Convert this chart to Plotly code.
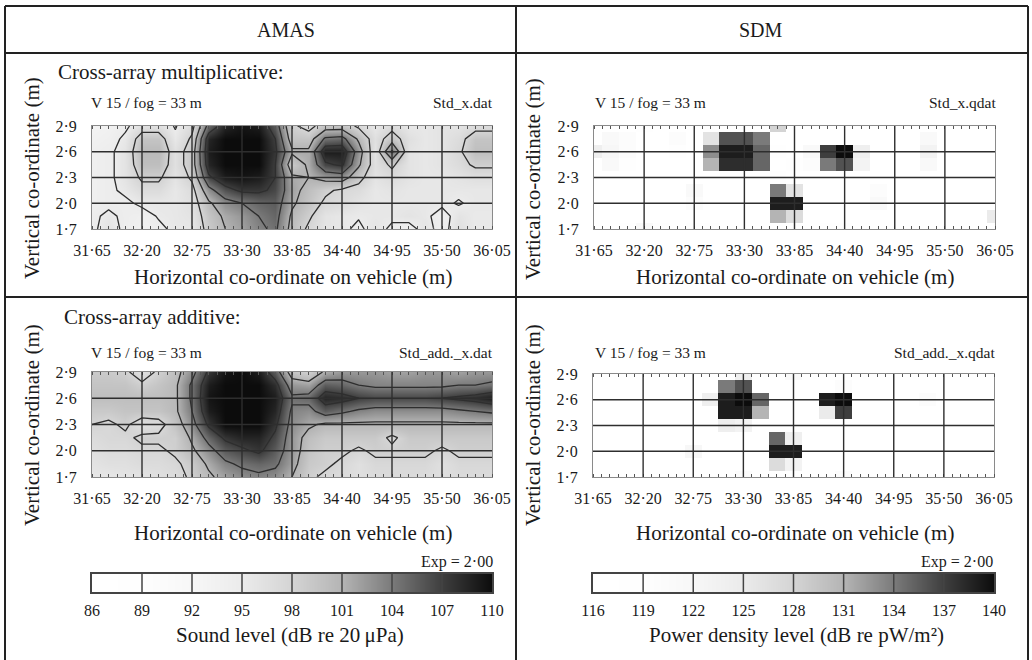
import plotly.graph_objects as go

W, H = 1032, 660
FONT = "Liberation Serif"
TXT = "#1a1a1a"

# ---------------- data ----------------
x_grid = [31.650, 31.833, 32.017, 32.200, 32.383, 32.567, 32.750, 32.933, 33.117,
          33.300, 33.483, 33.667, 33.850, 34.033, 34.217, 34.400, 34.583, 34.767,
          34.950, 35.133, 35.317, 35.500, 35.683, 35.867, 36.050]
y_grid = [1.70, 1.85, 2.00, 2.15, 2.30, 2.45, 2.60, 2.75, 2.90]

x_ticks = [31.65, 32.20, 32.75, 33.30, 33.85, 34.40, 34.95, 35.50, 36.05]
x_ticklabels = ["31·65", "32·20", "32·75", "33·30", "33·85", "34·40", "34·95", "35·50", "36·05"]
y_ticks = [1.7, 2.0, 2.3, 2.6, 2.9]
y_ticklabels = ["1·7", "2·0", "2·3", "2·6", "2·9"]

amas_levels = [86, 89, 92, 95, 98, 101, 104, 107, 110]
sdm_levels = [116, 119, 122, 125, 128, 131, 134, 137, 140]

# grey value of the scale at each level step (255 = white)
grey_steps = [255, 254, 247, 235, 212, 180, 122, 62, 12]

# AMAS cross-array multiplicative (dB re 20 uPa), rows bottom (1.7 m) to top (2.9 m)
amas_mult = [
    [94.5, 96, 94.5, 93.5, 94.5, 95.5, 95.5, 99, 101, 102, 103.5, 104.5, 100, 97.5, 96, 95.5, 94.5, 96, 94.5, 94, 96, 94, 96.5, 95.2, 95.2],
    [94.5, 95.5, 94.5, 94, 95.2, 95.5, 96, 99.5, 101.5, 102.5, 104, 105, 100.5, 98.5, 96, 95.5, 95.2, 95.5, 95.5, 96, 95.5, 94, 96, 95.2, 95.2],
    [94, 94.5, 94.5, 95.5, 95.5, 95.5, 96.5, 100.5, 103, 104, 105, 105.5, 101.5, 99.5, 97.5, 97, 96, 95.5, 95.5, 95.5, 95.5, 95.5, 94.8, 95.5, 95.5],
    [94, 94.5, 95.5, 97, 97, 95.5, 97, 103, 106, 107.5, 107.5, 106.5, 102, 100, 98.5, 97.5, 97, 95.5, 96, 95.5, 95.5, 95.5, 95.5, 95.5, 95.5],
    [94, 94.5, 96, 98.5, 98.5, 96, 98.5, 106.5, 109, 109.5, 109, 107, 101.5, 101, 102, 102.5, 99, 96, 97, 96, 95.5, 95.5, 96, 96.5, 96.5],
    [94, 94.5, 96, 100, 100, 96.5, 99.5, 108.5, 110, 110, 110, 107, 99, 101.5, 106.5, 107.5, 101.5, 96.5, 98.5, 96, 95.5, 96, 97, 98.5, 98.5],
    [94, 94.5, 96, 100.5, 100.5, 96.5, 99.5, 109, 110, 110, 110, 107.5, 101.5, 101.5, 109, 109, 102.5, 96, 104.5, 96, 95.5, 96, 97.5, 100, 100],
    [93.5, 94, 95.5, 99.5, 99.5, 95.5, 98.5, 108.5, 110, 110, 110, 107, 99.5, 99.5, 104.5, 105, 100.5, 96.5, 99.5, 96.5, 95.5, 96, 97, 99.5, 99.5],
    [93, 93.5, 94.5, 96.5, 96.5, 94.8, 97, 105, 108.5, 109.5, 109, 105.5, 98.5, 97, 99.5, 99.5, 97.5, 95.5, 97, 95.5, 95.5, 96, 96, 97, 97],
]

# AMAS cross-array additive
amas_add = [
    [95.5, 95.5, 96, 96, 96.5, 97, 98.5, 100.5, 102, 103, 103.5, 103, 101, 98.5, 97.5, 97, 96.5, 97, 97, 97, 97, 96.5, 97, 97, 97],
    [96, 96.5, 96.5, 97, 97, 97.5, 99, 101.5, 103.5, 104.5, 105, 104.5, 102, 99, 98.5, 97.5, 96.5, 97.5, 97.5, 97.5, 97.5, 96.5, 97.5, 97.5, 97.5],
    [96.5, 97, 97, 97.5, 97.5, 98.5, 100.5, 103, 105.5, 106.5, 107.5, 105.5, 102.5, 99.5, 98.5, 98.5, 97.6, 98.5, 98.5, 98.5, 98.5, 97.6, 98.5, 98.5, 98.5],
    [97, 97.5, 97.5, 98.5, 98.5, 98.5, 101.5, 105, 107.5, 108.5, 108.5, 106.5, 102.5, 100, 99, 99, 99, 99, 97.5, 99, 99, 99, 99, 99, 99],
    [98, 97.5, 98.5, 96.5, 97, 99.5, 103, 107.5, 110, 110, 110, 107.5, 103, 101.5, 100.5, 100.5, 100.5, 100.5, 100.5, 100.5, 100.5, 100.5, 100.5, 100.5, 100.5],
    [99, 99, 99.5, 99.5, 99.5, 100.5, 104, 109, 110, 110, 110, 108.5, 103.5, 103, 105.5, 104.5, 103.5, 103, 103, 103, 103, 103, 103.5, 104, 104.5],
    [100, 100, 100, 100, 100, 100.5, 104.5, 109.5, 110, 110, 110, 109, 104.5, 105, 108.5, 108, 107, 106.5, 106.5, 106.5, 106.5, 107, 107.5, 108, 109],
    [99.5, 99.5, 99.5, 98.5, 99.5, 100.5, 104.5, 109, 110, 110, 110, 108, 102.5, 102, 105.5, 105, 104, 103.5, 103.5, 103.5, 103.5, 103.5, 104, 104, 104.5],
    [99, 99, 98.5, 96.5, 98.5, 100, 103, 107.5, 109.5, 110, 109, 105.5, 99.5, 98.5, 101.5, 102.5, 102.5, 102.5, 102, 102, 102.5, 102.5, 102, 102.5, 102.5],
]

# SDM power density level (dB re pW/m^2), cross-array multiplicative
sdm_mult = [
    [117, 117, 118, 121, 118, 117, 119, 119, 117, 117, 117, 117, 117, 117, 119, 119, 117, 117, 117, 117, 117, 117, 117, 117, 117],
    [117, 117, 117, 117, 117, 117, 117, 117, 117, 117, 117, 131, 127, 117, 117, 117, 117, 117, 117, 117, 117, 117, 117, 117, 125],
    [117, 117, 117, 117, 117, 117, 120, 117, 117, 117, 117, 139, 139, 117, 117, 117, 117, 121, 117, 117, 117, 117, 117, 117, 117],
    [117, 117, 117, 117, 117, 117, 121, 117, 117, 117, 117, 134, 126, 117, 117, 117, 117, 120, 117, 117, 117, 117, 117, 117, 117],
    [117, 117, 117, 117, 117, 117, 117, 117, 117, 117, 117, 118, 117, 117, 117, 117, 117, 117, 117, 117, 117, 117, 117, 117, 117],
    [117, 121, 119, 117, 117, 117, 117, 131, 138, 138, 135, 117, 119, 120, 134, 136, 123, 117, 117, 117, 121, 117, 117, 117, 117],
    [124, 122, 120, 117, 117, 119, 117, 133, 139, 139, 135, 119, 117, 121, 137, 140, 124, 117, 117, 117, 123, 117, 117, 117, 117],
    [117, 121, 120, 117, 117, 120, 117, 126, 136, 136, 134, 117, 117, 117, 117, 117, 117, 117, 117, 117, 121, 117, 117, 117, 117],
    [117, 117, 117, 118, 117, 117, 117, 117, 117, 117, 117, 128, 117, 117, 117, 117, 117, 117, 117, 117, 117, 117, 117, 117, 117],
]

# SDM, cross-array additive
sdm_add = [
    [117, 117, 117, 117, 117, 117, 117, 117, 117, 120, 117, 117, 117, 117, 117, 120, 117, 117, 117, 117, 117, 117, 117, 117, 117],
    [117, 117, 117, 117, 117, 117, 117, 117, 117, 117, 117, 127, 123, 117, 117, 117, 117, 117, 117, 117, 117, 117, 117, 117, 117],
    [117, 117, 117, 117, 117, 117, 122, 117, 117, 117, 117, 139, 139, 117, 117, 117, 117, 117, 117, 117, 117, 117, 117, 117, 117],
    [117, 117, 117, 117, 117, 117, 117, 117, 117, 117, 117, 135, 124, 117, 117, 117, 117, 117, 117, 117, 117, 117, 117, 117, 117],
    [117, 117, 117, 117, 117, 117, 117, 117, 124, 123, 117, 117, 117, 117, 117, 117, 117, 117, 117, 117, 117, 117, 117, 117, 117],
    [117, 117, 117, 117, 117, 117, 117, 117, 139, 139, 131, 117, 117, 117, 125, 137, 117, 117, 117, 117, 117, 117, 117, 117, 117],
    [117, 117, 117, 117, 117, 117, 117, 124, 139, 140, 135, 117, 117, 117, 139, 140, 117, 117, 117, 117, 120, 117, 117, 117, 117],
    [117, 117, 117, 117, 117, 117, 117, 117, 134, 136, 117, 117, 117, 117, 117, 120, 117, 117, 117, 117, 117, 117, 117, 117, 117],
    [117, 117, 117, 117, 117, 117, 117, 117, 117, 124, 117, 117, 121, 117, 117, 117, 117, 117, 117, 117, 117, 117, 117, 117, 117],
]

# ---------------- helpers ----------------
colorscale = [[i / (len(grey_steps) - 1), f"rgb({g},{g},{g})"] for i, g in enumerate(grey_steps)]


def xd(a, b):
    return [a / W, b / W]


def yd(top, bottom):
    return [1 - bottom / H, 1 - top / H]


fig = go.Figure()

# AMAS panels: smooth shading + contour lines
for z, xa, ya in [(amas_mult, "x", "y"), (amas_add, "x3", "y3")]:
    fig.add_trace(go.Heatmap(
        x=x_grid, y=y_grid, z=z, xaxis=xa, yaxis=ya,
        zmin=amas_levels[0], zmax=amas_levels[-1], colorscale=colorscale,
        zsmooth="best", showscale=False, hoverinfo="skip"))
    fig.add_trace(go.Contour(
        x=x_grid, y=y_grid, z=z, xaxis=xa, yaxis=ya,
        contours=dict(start=amas_levels[1], end=amas_levels[-2], size=3,
                      coloring="none", showlines=True),
        line=dict(color="#2e2e2e", width=1.3, smoothing=0),
        showscale=False, hoverinfo="skip"))

# SDM panels: cell maps
for z, xa, ya in [(sdm_mult, "x2", "y2"), (sdm_add, "x4", "y4")]:
    fig.add_trace(go.Heatmap(
        x=x_grid, y=y_grid, z=z, xaxis=xa, yaxis=ya,
        zmin=sdm_levels[0], zmax=sdm_levels[-1], colorscale=colorscale,
        zsmooth=False, showscale=False, hoverinfo="skip"))

# colour scales drawn as one-row heatmaps
for lv, xa, ya in [(amas_levels, "x5", "y5"), (sdm_levels, "x6", "y6")]:
    fig.add_trace(go.Heatmap(
        x=lv, y=[0], z=[lv], xaxis=xa, yaxis=ya,
        zmin=lv[0], zmax=lv[-1], colorscale=colorscale,
        zsmooth="best", showscale=False, hoverinfo="skip"))

tickfont = dict(family=FONT, size=16, color=TXT)

panel_dom = {
    "": (xd(92, 492), yd(126, 229)),
    "2": (xd(594, 995), yd(126, 229)),
    "3": (xd(92, 492), yd(372, 477)),
    "4": (xd(593, 994), yd(374, 477)),
}
layout_axes = {}
for s, (xdom, ydom) in panel_dom.items():
    layout_axes["xaxis" + s] = dict(
        domain=xdom, anchor="y" + s, range=[x_ticks[0], x_ticks[-1]], automargin=False,
        tickmode="array", tickvals=x_ticks, ticktext=x_ticklabels, ticks="",
        tickfont=tickfont, ticklabelstandoff=7, showgrid=False, zeroline=False,
        showline=True, linecolor="#8a8a8a", linewidth=1, mirror="allticks",
        minor=dict(tick0=x_ticks[0], dtick=(x_ticks[1] - x_ticks[0]) / 6, ticks="inside",
                   ticklen=3, tickwidth=1, tickcolor="#555", showgrid=False),
        fixedrange=True)
    layout_axes["yaxis" + s] = dict(
        domain=ydom, anchor="x" + s, range=[y_ticks[0], y_ticks[-1]], automargin=False,
        tickmode="array", tickvals=y_ticks, ticktext=y_ticklabels, ticks="",
        tickfont=tickfont, ticklabelstandoff=11, showgrid=False, zeroline=False,
        showline=True, linecolor="#8a8a8a", linewidth=1, mirror=True, fixedrange=True)

for s, xdom, lv in [("5", xd(92, 492), amas_levels), ("6", xd(593, 994), sdm_levels)]:
    layout_axes["xaxis" + s] = dict(
        domain=xdom, anchor="y" + s, range=[lv[0], lv[-1]], tickmode="array", automargin=False,
        tickvals=lv, ticktext=[str(v) for v in lv], ticks="", tickfont=tickfont,
        ticklabelstandoff=3, showgrid=False, zeroline=False, showline=True,
        linecolor="#444", linewidth=1.5, mirror=True, fixedrange=True)
    layout_axes["yaxis" + s] = dict(
        domain=yd(574, 592), anchor="x" + s, range=[-0.5, 0.5], showticklabels=False,
        automargin=False, ticks="", showgrid=False, zeroline=False, showline=True,
        linecolor="#444", linewidth=1.5, mirror=True, fixedrange=True)

shapes = []
# grid lines above the maps
for s in ["", "2", "3", "4"]:
    xa, ya = "x" + s, "y" + s
    for xv in x_ticks[1:-1]:
        shapes.append(dict(type="line", xref=xa, yref=ya + " domain", x0=xv, x1=xv, y0=0, y1=1,
                           line=dict(color="#2e2e2e", width=1.4), layer="above"))
    for yv in y_ticks[1:-1]:
        shapes.append(dict(type="line", xref=xa + " domain", yref=ya, x0=0, x1=1, y0=yv, y1=yv,
                           line=dict(color="#2e2e2e", width=1.4), layer="above"))
# dividers in the colour scales
for s, lv in [("5", amas_levels), ("6", sdm_levels)]:
    for v in lv[1:-1]:
        shapes.append(dict(type="line", xref="x" + s, yref="y" + s + " domain", x0=v, x1=v, y0=0, y1=1,
                           line=dict(color="#444", width=1.5), layer="above"))

# table lines
tl = dict(color="#222", width=2)
for y in [6, 53, 297]:
    shapes.append(dict(type="line", xref="paper", yref="paper", x0=5 / W, x1=1028 / W,
                       y0=1 - y / H, y1=1 - y / H, line=tl))
for x in [5, 516, 1028]:
    shapes.append(dict(type="line", xref="paper", yref="paper", x0=x / W, x1=x / W,
                       y0=1 - 6 / H, y1=0, line=tl))

annotations = []


def ann(text, x, y, size, xanchor="center", angle=0):
    annotations.append(dict(text=text, x=x / W, y=1 - y / H, xref="paper", yref="paper",
                            xanchor=xanchor, yanchor="middle", textangle=angle, showarrow=False,
                            font=dict(family=FONT, size=size, color=TXT)))


ann("AMAS", 286, 30, 20)
ann("SDM", 761, 30, 20)
ann("Cross-array multiplicative:", 56, 72, 21, "left")
ann("Cross-array additive:", 62, 317, 21, "left")
for (lx, rx, y, name) in [(91, 493, 102, "Std_x.dat"), (595, 996, 102, "Std_x.qdat"),
                          (91, 493, 352, "Std_add._x.dat"), (595, 995, 352, "Std_add._x.qdat")]:
    ann("V 15 / fog = 33 m", lx - 2, y, 15.5, "left")
    ann(name, rx + 2, y, 15.5, "right")
for (cx, y) in [(32, 178), (533, 179), (32, 425), (533, 425)]:
    ann("Vertical co-ordinate (m)", cx, y, 21, angle=-90)
for (cx, y) in [(293, 277), (795, 277), (293, 533), (795, 533)]:
    ann("Horizontal co-ordinate on vehicle (m)", cx, y, 21)
ann("Exp = 2·00", 495, 562, 16, "right")
ann("Exp = 2·00", 995, 562, 16, "right")
ann("Sound level (dB re 20\u2009\u03bcPa)", 290, 635, 21)
ann("Power density level (dB re pW/m\u00b2)", 796, 635, 21)

fig.update_layout(
    width=W, height=H, margin=dict(l=0, r=0, t=0, b=0, autoexpand=False),
    paper_bgcolor="white", plot_bgcolor="white", showlegend=False,
    shapes=shapes, annotations=annotations, **layout_axes)

fig.write_html("out.html", config={"displayModeBar": False})
